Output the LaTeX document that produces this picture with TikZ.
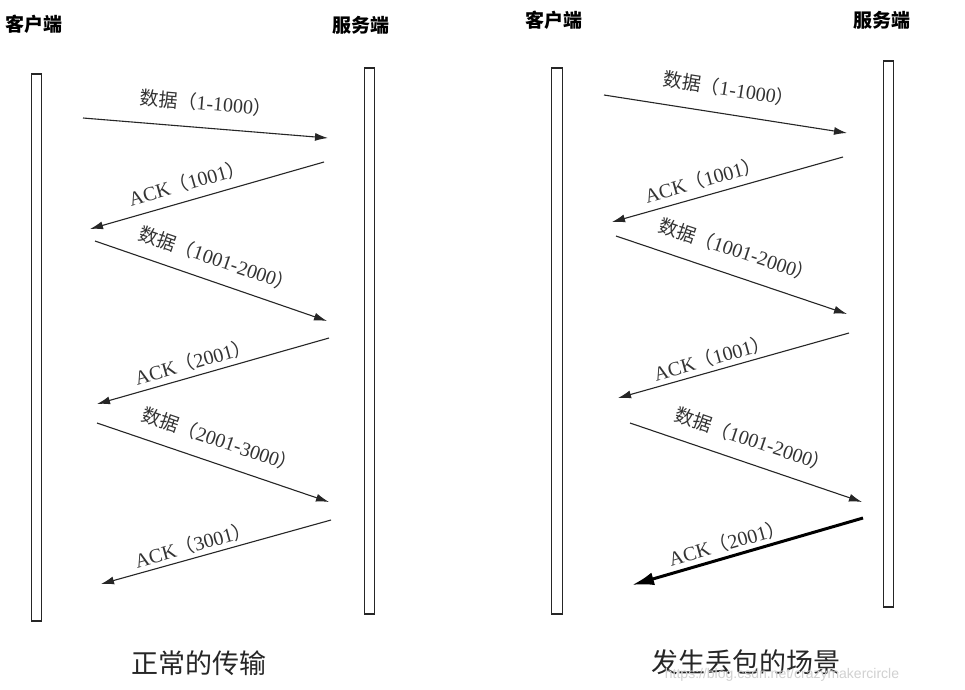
\documentclass[tikz,border=0pt]{standalone}
\usepackage{fontspec}
\setmainfont{Liberation Serif}
\newfontfamily\zh{Noto Sans CJK SC}
\newfontfamily\wmfont{Liberation Sans}
\usetikzlibrary{arrows.meta}
\tikzset{
  bar/.style={draw=black!85, line width=1.4pt, fill=white, minimum width=10.5pt, inner sep=0pt, outer sep=0pt},
  msg/.style={draw=black!85, line width=1.1pt, -{Latex[length=13pt,width=8pt]}},
  lostmsg/.style={draw=black, line width=3pt, -{Latex[length=22pt,width=13pt]}},
  lbl/.style={font=\fontsize{20}{23}\selectfont, text=black!80, inner sep=0pt},
  head/.style={font=\zh\bfseries\fontsize{19}{22}\selectfont, inner sep=0pt},
  caption/.style={font=\zh\fontsize{27}{30}\selectfont, inner sep=0pt, text=black!85},
}
\newcommand{\dlbl}[1]{{\zh\fontsize{19}{22}\selectfont 数据（}#1{\zh\fontsize{19}{22}\selectfont ）}}
\newcommand{\albl}[1]{ACK{\zh\fontsize{19}{22}\selectfont （}#1{\zh\fontsize{19}{22}\selectfont ）}}
\begin{document}
\begin{tikzpicture}[x=1pt,y=-1pt]
\useasboundingbox (0,0) rectangle (965,689);
\fill[white] (0,0) rectangle (965,689);

% headers
\node[head] (h1) at (34,24) {客户端};
\node[head] (h2) at (361,25) {服务端};
\node[head] (h3) at (554,20) {客户端};
\node[head] (h4) at (882,20) {服务端};

% lifelines
\node[bar, minimum height=547pt] (c1) at (36.5,347.5) {};
\node[bar, minimum height=546pt] (s1) at (369.5,341) {};
\node[bar, minimum height=546pt] (c2) at (557,341) {};
\node[bar, minimum height=546pt] (s2) at (888.5,334) {};

% left scenario endpoints
\coordinate (a1s) at (83,118);  \coordinate (a1e) at (328,138);
\coordinate (a2s) at (324,162); \coordinate (a2e) at (90,229);
\coordinate (a3s) at (95,241);  \coordinate (a3e) at (327,321);
\coordinate (a4s) at (329,338); \coordinate (a4e) at (97,404);
\coordinate (a5s) at (97,423);  \coordinate (a5e) at (329,502);
\coordinate (a6s) at (331,520); \coordinate (a6e) at (101,584);

\draw[msg] (a1s) -- (a1e);
\draw[msg] (a2s) -- (a2e);
\draw[msg] (a3s) -- (a3e);
\draw[msg] (a4s) -- (a4e);
\draw[msg] (a5s) -- (a5e);
\draw[msg] (a6s) -- (a6e);

\node[lbl, rotate=-4.7] (l1) at (206,103) {\dlbl{1-1000}};
\node[lbl, rotate=16] (l2) at (187,183) {\albl{1001}};
\node[lbl, rotate=-18.9] (l3) at (217,259) {\dlbl{1001-2000}};
\node[lbl, rotate=15.9] (l4) at (193,362) {\albl{2001}};
\node[lbl, rotate=-18.8] (l5) at (220,440) {\dlbl{2001-3000}};
\node[lbl, rotate=15.6] (l6) at (193,545) {\albl{3001}};

% right scenario endpoints
\coordinate (b1s) at (604,95);  \coordinate (b1e) at (847,133);
\coordinate (b2s) at (843,157); \coordinate (b2e) at (612,222);
\coordinate (b3s) at (616,236); \coordinate (b3e) at (847,314);
\coordinate (b4s) at (849,333); \coordinate (b4e) at (618,398);
\coordinate (b5s) at (630,423); \coordinate (b5e) at (862,502);
\coordinate (b6s) at (863,518); \coordinate (b6e) at (632,585);

\draw[msg] (b1s) -- (b1e);
\draw[msg] (b2s) -- (b2e);
\draw[msg] (b3s) -- (b3e);
\draw[msg] (b4s) -- (b4e);
\draw[msg] (b5s) -- (b5e);
\draw[lostmsg] (b6s) -- (b6e);

\node[lbl, rotate=-8.9] (m1) at (729,89) {\dlbl{1-1000}};
\node[lbl, rotate=15.7] (m2) at (703,180) {\albl{1001}};
\node[lbl, rotate=-18.4] (m3) at (737,250) {\dlbl{1001-2000}};
\node[lbl, rotate=15.7] (m4) at (712,358) {\albl{1001}};
\node[lbl, rotate=-18.6] (m5) at (753,440) {\dlbl{1001-2000}};
\node[lbl, rotate=15.9] (m6) at (727,543) {\albl{2001}};

% captions
\node[caption] (t1) at (199,663) {正常的传输};
\node[caption] (t2) at (746,662) {发生丢包的场景};

% watermark
\node[font=\wmfont\fontsize{14}{16}\selectfont, text=black!18, inner sep=0pt] (wm) at (782,675) {https://blog.csdn.net/crazymakercircle};
\end{tikzpicture}
\end{document}
